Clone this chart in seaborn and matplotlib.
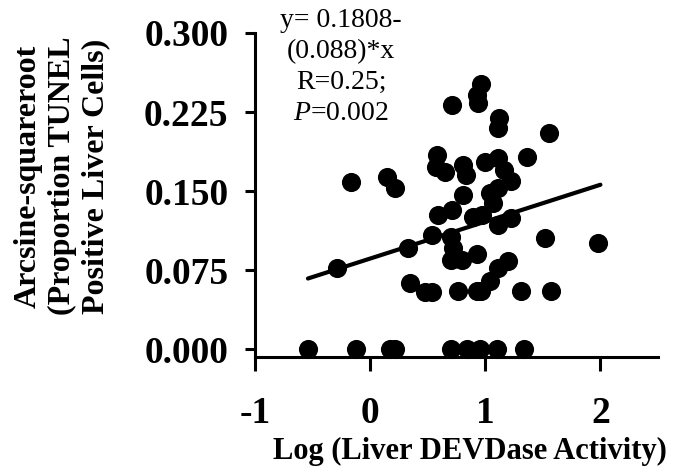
import matplotlib
matplotlib.use("Agg")
import matplotlib.pyplot as plt
import seaborn as sns
import pandas as pd

# Data
log_devdase = [
    -0.54, -0.12, 0.17, 0.22, 0.70, 0.84, 0.95, 1.10, 1.34,
    0.96, 0.93, 0.94, 0.71, 1.12, 1.11, 1.55, 1.36,
    -0.17, 0.15, 0.22, 0.58, 0.57, 0.65, 0.81, 0.83, 1.00, 1.11, 1.16, 1.22,
    0.81, 1.04, 1.07, 1.11, 0.59, 0.71, 0.89, 0.97, 1.11, 1.22,
    0.54, 0.33, 0.70, 0.72, 0.70, 0.80, 0.93, 1.52, 1.98, 1.20, 1.11, 1.04,
    -0.29, 0.35, 0.48, 0.54, 0.76, 0.93, 0.96, 1.31, 1.57,
]
asin_tunel = [
    0.000, 0.000, 0.000, 0.000, 0.000, 0.000, 0.000, 0.000, 0.000,
    0.252, 0.241, 0.234, 0.232, 0.219, 0.210, 0.205, 0.182,
    0.159, 0.163, 0.153, 0.184, 0.173, 0.168, 0.175, 0.165, 0.178, 0.181, 0.170, 0.160,
    0.146, 0.148, 0.139, 0.153, 0.127, 0.132, 0.125, 0.127, 0.118, 0.124,
    0.108, 0.096, 0.106, 0.096, 0.085, 0.085, 0.090, 0.105, 0.101, 0.084, 0.077, 0.065,
    0.077, 0.063, 0.054, 0.054, 0.055, 0.055, 0.055, 0.055, 0.055,
]
fit_x = [-0.54, 2.00]
fit_y = [0.067, 0.156]

x_ticks = [-1, 0, 1, 2]
y_ticks = [0.000, 0.075, 0.150, 0.225, 0.300]
y_tick_labels = ["0.000", "0.075", "0.150", "0.225", "0.300"]

sns.set_style("ticks")
plt.rcParams["font.family"] = ["Liberation Serif", "DejaVu Serif"]
plt.rcParams["mathtext.fontset"] = "custom"
plt.rcParams["mathtext.rm"] = "Liberation Serif"
plt.rcParams["mathtext.it"] = "Liberation Serif:italic"
plt.rcParams["text.color"] = "black"
plt.rcParams["axes.labelcolor"] = "black"

df = pd.DataFrame({"x": log_devdase, "y": asin_tunel})
fit = pd.DataFrame({"x": fit_x, "y": fit_y})

fig = plt.figure(figsize=(6.74, 4.75), dpi=100)
ax = fig.add_axes([255 / 674, 1 - 357 / 475, 403 / 674, 324 / 475])

sns.lineplot(data=fit, x="x", y="y", ax=ax, color="black", linewidth=3.0, zorder=2)
sns.scatterplot(data=df, x="x", y="y", ax=ax, color="black", s=190,
                edgecolor="black", linewidth=0, zorder=3, clip_on=False)

ax.set_xlim(-1, 2.5)
ax.set_ylim(-0.0075, 0.300)
ax.set_xticks(x_ticks)
ax.set_xticklabels([str(t) for t in x_ticks])
ax.set_yticks(y_ticks)
ax.set_yticklabels(y_tick_labels)

for s in ["top", "right"]:
    ax.spines[s].set_visible(False)
for s in ["left", "bottom"]:
    ax.spines[s].set_linewidth(2.2)
    ax.spines[s].set_color("black")

ax.tick_params(axis="x", direction="out", length=10, width=2.2, pad=18,
               labelsize=27, colors="black")
ax.tick_params(axis="y", direction="out", length=7, width=2.2, pad=12,
               labelsize=27, colors="black")
for lab in ax.get_xticklabels() + ax.get_yticklabels():
    lab.set_fontweight("bold")

ax.set_xlabel("Log (Liver DEVDase Activity)", fontsize=22, fontweight="bold",
              color="black")
ax.xaxis.set_label_coords((470 - 255) / 403, (357 - 451) / 324)
ax.xaxis.label.set_va("center")
ax.set_ylabel("")

fig.text(62 / 674, 1 - 176 / 475,
         "Arcsine-squareroot\n(Proportion TUNEL\nPositive Liver Cells)",
         rotation=90, ha="center", va="center", multialignment="center",
         fontsize=23, fontweight="bold", linespacing=1.2, color="black")

ax.text((341 - 255) / 403, (357 - 67) / 324,
        "y= 0.1808-\n(0.088)*x\nR=0.25;\n$\\mathit{P}$=0.002",
        transform=ax.transAxes, ha="center", va="center",
        multialignment="center", fontsize=20, linespacing=1.3, color="black")

fig.savefig("out.png", dpi=100, facecolor="white")
